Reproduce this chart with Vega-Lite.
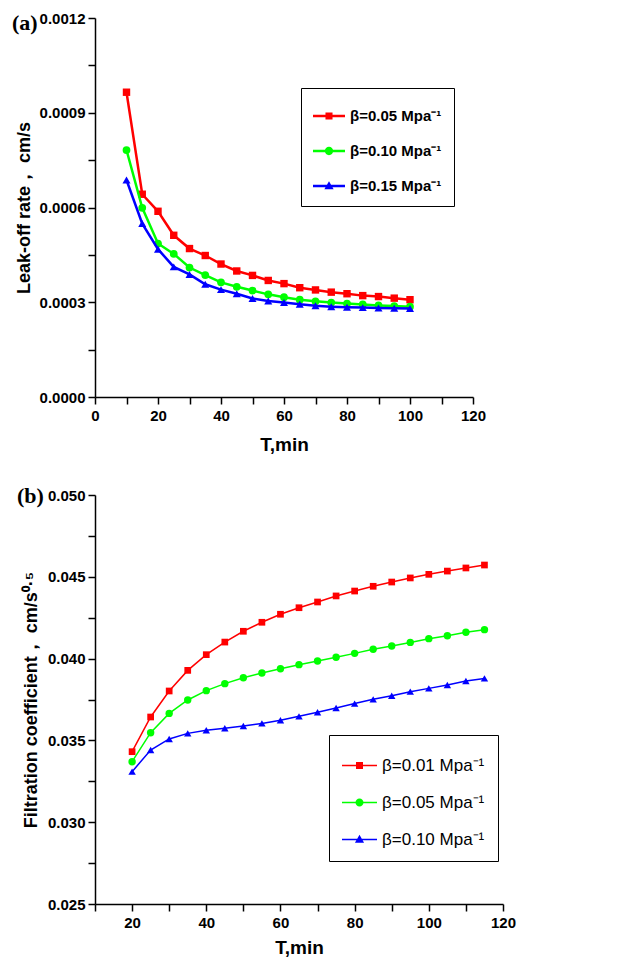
{
  "$schema": "https://vega.github.io/schema/vega-lite/v6.json",
  "autosize": {"type": "pad"},
  "padding": {"left": 12, "top": 11, "right": 20, "bottom": 5},
  "background": "white",
  "spacing": 98,
  "bounds": "flush",
  "config": {
    "view": {"stroke": null},
    "axis": {
      "domainColor": "black", "domainWidth": 1.5,
      "tickColor": "black", "tickWidth": 1.5, "tickSize": 7,
      "labelFont": "Liberation Sans", "labelFontWeight": "bold", "labelFontSize": 15, "labelColor": "black",
      "titleFont": "Liberation Sans", "titleFontWeight": "bold", "titleColor": "black",
      "grid": false, "labelOverlap": false, "labelFlush": false, "labelBound": false
    }
  },
  "datasets": {
    "a": [
      {"T": 10, "v": 0.000965, "beta": "0.05"}, {"T": 15, "v": 0.000642, "beta": "0.05"}, {"T": 20, "v": 0.000588, "beta": "0.05"},
      {"T": 25, "v": 0.000512, "beta": "0.05"}, {"T": 30, "v": 0.000470, "beta": "0.05"}, {"T": 35, "v": 0.000448, "beta": "0.05"},
      {"T": 40, "v": 0.000421, "beta": "0.05"}, {"T": 45, "v": 0.000399, "beta": "0.05"}, {"T": 50, "v": 0.000385, "beta": "0.05"},
      {"T": 55, "v": 0.000369, "beta": "0.05"}, {"T": 60, "v": 0.000359, "beta": "0.05"}, {"T": 65, "v": 0.000346, "beta": "0.05"},
      {"T": 70, "v": 0.000339, "beta": "0.05"}, {"T": 75, "v": 0.000332, "beta": "0.05"}, {"T": 80, "v": 0.000327, "beta": "0.05"},
      {"T": 85, "v": 0.000321, "beta": "0.05"}, {"T": 90, "v": 0.000318, "beta": "0.05"}, {"T": 95, "v": 0.000313, "beta": "0.05"},
      {"T": 100, "v": 0.000308, "beta": "0.05"},
      {"T": 10, "v": 0.000782, "beta": "0.10"}, {"T": 15, "v": 0.000599, "beta": "0.10"}, {"T": 20, "v": 0.000486, "beta": "0.10"},
      {"T": 25, "v": 0.000453, "beta": "0.10"}, {"T": 30, "v": 0.000410, "beta": "0.10"}, {"T": 35, "v": 0.000386, "beta": "0.10"},
      {"T": 40, "v": 0.000363, "beta": "0.10"}, {"T": 45, "v": 0.000349, "beta": "0.10"}, {"T": 50, "v": 0.000337, "beta": "0.10"},
      {"T": 55, "v": 0.000325, "beta": "0.10"}, {"T": 60, "v": 0.000316, "beta": "0.10"}, {"T": 65, "v": 0.000308, "beta": "0.10"},
      {"T": 70, "v": 0.000303, "beta": "0.10"}, {"T": 75, "v": 0.000299, "beta": "0.10"}, {"T": 80, "v": 0.000296, "beta": "0.10"},
      {"T": 85, "v": 0.000293, "beta": "0.10"}, {"T": 90, "v": 0.000290, "beta": "0.10"}, {"T": 95, "v": 0.000288, "beta": "0.10"},
      {"T": 100, "v": 0.000286, "beta": "0.10"},
      {"T": 10, "v": 0.000687, "beta": "0.15"}, {"T": 15, "v": 0.000549, "beta": "0.15"}, {"T": 20, "v": 0.000468, "beta": "0.15"},
      {"T": 25, "v": 0.000412, "beta": "0.15"}, {"T": 30, "v": 0.000388, "beta": "0.15"}, {"T": 35, "v": 0.000357, "beta": "0.15"},
      {"T": 40, "v": 0.000340, "beta": "0.15"}, {"T": 45, "v": 0.000327, "beta": "0.15"}, {"T": 50, "v": 0.000312, "beta": "0.15"},
      {"T": 55, "v": 0.000304, "beta": "0.15"}, {"T": 60, "v": 0.000299, "beta": "0.15"}, {"T": 65, "v": 0.000294, "beta": "0.15"},
      {"T": 70, "v": 0.000289, "beta": "0.15"}, {"T": 75, "v": 0.000286, "beta": "0.15"}, {"T": 80, "v": 0.000284, "beta": "0.15"},
      {"T": 85, "v": 0.000283, "beta": "0.15"}, {"T": 90, "v": 0.000282, "beta": "0.15"}, {"T": 95, "v": 0.000281, "beta": "0.15"},
      {"T": 100, "v": 0.000280, "beta": "0.15"}
    ],
    "b": [
      {"T": 20, "v": 0.03431, "beta": "0.01"}, {"T": 25, "v": 0.03643, "beta": "0.01"}, {"T": 30, "v": 0.03802, "beta": "0.01"},
      {"T": 35, "v": 0.03928, "beta": "0.01"}, {"T": 40, "v": 0.04024, "beta": "0.01"}, {"T": 45, "v": 0.04101, "beta": "0.01"},
      {"T": 50, "v": 0.04167, "beta": "0.01"}, {"T": 55, "v": 0.04222, "beta": "0.01"}, {"T": 60, "v": 0.04271, "beta": "0.01"},
      {"T": 65, "v": 0.04311, "beta": "0.01"}, {"T": 70, "v": 0.04346, "beta": "0.01"}, {"T": 75, "v": 0.04383, "beta": "0.01"},
      {"T": 80, "v": 0.04413, "beta": "0.01"}, {"T": 85, "v": 0.04442, "beta": "0.01"}, {"T": 90, "v": 0.04468, "beta": "0.01"},
      {"T": 95, "v": 0.04493, "beta": "0.01"}, {"T": 100, "v": 0.04515, "beta": "0.01"}, {"T": 105, "v": 0.04535, "beta": "0.01"},
      {"T": 110, "v": 0.04554, "beta": "0.01"}, {"T": 115, "v": 0.04572, "beta": "0.01"},
      {"T": 20, "v": 0.03370, "beta": "0.05"}, {"T": 25, "v": 0.03547, "beta": "0.05"}, {"T": 30, "v": 0.03665, "beta": "0.05"},
      {"T": 35, "v": 0.03747, "beta": "0.05"}, {"T": 40, "v": 0.03804, "beta": "0.05"}, {"T": 45, "v": 0.03847, "beta": "0.05"},
      {"T": 50, "v": 0.03883, "beta": "0.05"}, {"T": 55, "v": 0.03912, "beta": "0.05"}, {"T": 60, "v": 0.03938, "beta": "0.05"},
      {"T": 65, "v": 0.03963, "beta": "0.05"}, {"T": 70, "v": 0.03985, "beta": "0.05"}, {"T": 75, "v": 0.04008, "beta": "0.05"},
      {"T": 80, "v": 0.04032, "beta": "0.05"}, {"T": 85, "v": 0.04057, "beta": "0.05"}, {"T": 90, "v": 0.04077, "beta": "0.05"},
      {"T": 95, "v": 0.04099, "beta": "0.05"}, {"T": 100, "v": 0.04122, "beta": "0.05"}, {"T": 105, "v": 0.04140, "beta": "0.05"},
      {"T": 110, "v": 0.04161, "beta": "0.05"}, {"T": 115, "v": 0.04177, "beta": "0.05"},
      {"T": 20, "v": 0.03309, "beta": "0.10"}, {"T": 25, "v": 0.03441, "beta": "0.10"}, {"T": 30, "v": 0.03509, "beta": "0.10"},
      {"T": 35, "v": 0.03543, "beta": "0.10"}, {"T": 40, "v": 0.03562, "beta": "0.10"}, {"T": 45, "v": 0.03574, "beta": "0.10"},
      {"T": 50, "v": 0.03588, "beta": "0.10"}, {"T": 55, "v": 0.03604, "beta": "0.10"}, {"T": 60, "v": 0.03623, "beta": "0.10"},
      {"T": 65, "v": 0.03647, "beta": "0.10"}, {"T": 70, "v": 0.03672, "beta": "0.10"}, {"T": 75, "v": 0.03698, "beta": "0.10"},
      {"T": 80, "v": 0.03725, "beta": "0.10"}, {"T": 85, "v": 0.03751, "beta": "0.10"}, {"T": 90, "v": 0.03773, "beta": "0.10"},
      {"T": 95, "v": 0.03798, "beta": "0.10"}, {"T": 100, "v": 0.03818, "beta": "0.10"}, {"T": 105, "v": 0.03839, "beta": "0.10"},
      {"T": 110, "v": 0.03863, "beta": "0.10"}, {"T": 115, "v": 0.03879, "beta": "0.10"}
    ]
  },
  "vconcat": [
    {
      "width": 378, "height": 379,
      "title": {"text": "(a)", "anchor": "start", "frame": "group", "font": "Liberation Serif", "fontSize": 22, "fontWeight": "bold", "color": "black", "baseline": "top", "offset": 0, "dx": -83, "dy": 24},
      "data": {"name": "a"},
      "encoding": {
        "x": {"field": "T", "type": "quantitative", "scale": {"domain": [0, 120], "nice": false},
          "axis": {"title": "T,min", "titleFontSize": 19, "titlePadding": 12, "labelPadding": 4,
            "values": [0, 10, 20, 30, 40, 50, 60, 70, 80, 90, 100, 110, 120],
            "labelExpr": "datum.value % 20 === 0 ? datum.label : ''",
            "encode": {"ticks": {"y2": {"value": {"expr": "datum.value % 20 === 0 ? 7 : 4"}}}}}},
        "y": {"field": "v", "type": "quantitative", "scale": {"domain": [0, 0.0012], "nice": false},
          "axis": {"title": "Leak-off rate， cm/s", "titleFontSize": 18, "titlePadding": 7, "minExtent": 55, "maxExtent": 55,
            "format": ".4f", "labelPadding": 3,
            "values": [0, 0.00015, 0.0003, 0.00045, 0.0006, 0.00075, 0.0009, 0.00105, 0.0012],
            "labelExpr": "abs(datum.value/0.0003 - round(datum.value/0.0003)) < 1e-6 ? datum.label : ''",
            "encode": {"ticks": {"x2": {"value": {"expr": "abs(datum.value/0.0003 - round(datum.value/0.0003)) < 1e-6 ? -7 : -4"}}}}}}
      },
      "layer": [
        {"transform": [{"filter": "datum.beta === '0.05'"}],
          "mark": {"type": "line", "strokeWidth": 2.5, "color": "#ff0000",
            "point": {"shape": "square", "filled": true, "opacity": 1, "size": 55, "color": "#ff0000"}}},
        {"transform": [{"filter": "datum.beta === '0.10'"}],
          "mark": {"type": "line", "strokeWidth": 2.5, "color": "#00ff00",
            "point": {"shape": "circle", "filled": true, "opacity": 1, "size": 60, "color": "#00ff00"}}},
        {"transform": [{"filter": "datum.beta === '0.15'"}],
          "mark": {"type": "line", "strokeWidth": 2.5, "color": "#0000ff",
            "point": {"shape": "triangle-up", "filled": true, "opacity": 1, "size": 65, "color": "#0000ff"}}},
        {"transform": [{"filter": "false"}],
          "mark": {"type": "point", "filled": true, "opacity": 1, "size": 60},
          "encoding": {
            "color": {"field": "beta", "type": "nominal",
              "scale": {"domain": ["0.05", "0.10", "0.15"], "range": ["#ff0000", "#00ff00", "#0000ff"]},
              "legend": {"orient": "none", "legendX": 206, "legendY": 70, "title": null, "direction": "vertical",
                "padding": 12, "strokeColor": "black", "fillColor": "white",
                "symbolSize": 1024, "symbolOpacity": 1, "symbolStrokeWidth": 0, "rowPadding": 11, "labelOffset": 5, "labelLimit": 300,
                "labelFont": "Liberation Sans", "labelFontWeight": "bold", "labelFontSize": 15, "labelColor": "black",
                "labelExpr": "'β=' + datum.value + ' Mpa⁻¹'"}},
            "shape": {"field": "beta", "type": "nominal",
              "scale": {"domain": ["0.05", "0.10", "0.15"], "range": [
                "M-1,-0.08H1V0.08H-1ZM-0.22,-0.22H0.22V0.22H-0.22Z",
                "M-1,-0.08H1V0.08H-1ZM0.26,0A0.26,0.26,0,1,1,-0.26,0A0.26,0.26,0,1,1,0.26,0Z",
                "M-1,-0.08H1V0.08H-1ZM0,-0.3L0.29,0.2L-0.29,0.2Z"]},
              "legend": {"orient": "none", "legendX": 206, "legendY": 70, "title": null, "direction": "vertical",
                "padding": 12, "strokeColor": "black", "fillColor": "white",
                "symbolSize": 1024, "symbolOpacity": 1, "symbolStrokeWidth": 0, "rowPadding": 11, "labelOffset": 5, "labelLimit": 300,
                "labelFont": "Liberation Sans", "labelFontWeight": "bold", "labelFontSize": 15, "labelColor": "black",
                "labelExpr": "'β=' + datum.value + ' Mpa⁻¹'"}}
          }}
      ]
    },
    {
      "width": 408, "height": 409,
      "title": {"text": "(b)", "anchor": "start", "frame": "group", "font": "Liberation Serif", "fontSize": 22, "fontWeight": "bold", "color": "black", "baseline": "top", "offset": 0, "dx": -78, "dy": 20},
      "data": {"name": "b"},
      "encoding": {
        "x": {"field": "T", "type": "quantitative", "scale": {"domain": [10, 120], "nice": false},
          "axis": {"title": "T,min", "titleFontSize": 19, "titlePadding": 8, "labelPadding": 4,
            "values": [10, 20, 30, 40, 50, 60, 70, 80, 90, 100, 110, 120],
            "labelExpr": "datum.value % 20 === 0 ? datum.label : ''",
            "encode": {"ticks": {"y2": {"value": {"expr": "datum.value % 20 === 0 ? 7 : 4"}}}}}},
        "y": {"field": "v", "type": "quantitative", "scale": {"domain": [0.025, 0.05], "nice": false},
          "axis": {"title": "Filtration coefficient， cm/s⁰·⁵", "titleFontSize": 18, "titlePadding": 5, "minExtent": 50, "maxExtent": 50,
            "format": ".3f", "labelPadding": 3,
            "values": [0.025, 0.0275, 0.03, 0.0325, 0.035, 0.0375, 0.04, 0.0425, 0.045, 0.0475, 0.05],
            "labelExpr": "abs(datum.value*200 - round(datum.value*200)) < 1e-6 ? datum.label : ''",
            "encode": {"ticks": {"x2": {"value": {"expr": "abs(datum.value*200 - round(datum.value*200)) < 1e-6 ? -7 : -4"}}}}}}
      },
      "layer": [
        {"transform": [{"filter": "datum.beta === '0.01'"}],
          "mark": {"type": "line", "strokeWidth": 1.5, "color": "#ff0000",
            "point": {"shape": "square", "filled": true, "opacity": 1, "size": 45, "color": "#ff0000"}}},
        {"transform": [{"filter": "datum.beta === '0.05'"}],
          "mark": {"type": "line", "strokeWidth": 1.5, "color": "#00ff00",
            "point": {"shape": "circle", "filled": true, "opacity": 1, "size": 55, "color": "#00ff00"}}},
        {"transform": [{"filter": "datum.beta === '0.10'"}],
          "mark": {"type": "line", "strokeWidth": 1.5, "color": "#0000ff",
            "point": {"shape": "triangle-up", "filled": true, "opacity": 1, "size": 55, "color": "#0000ff"}}},
        {"transform": [{"filter": "false"}],
          "mark": {"type": "point", "filled": true, "opacity": 1, "size": 60},
          "encoding": {
            "color": {"field": "beta", "type": "nominal",
              "scale": {"domain": ["0.01", "0.05", "0.10"], "range": ["#ff0000", "#00ff00", "#0000ff"]},
              "legend": {"orient": "none", "legendX": 234, "legendY": 240, "title": null, "direction": "vertical",
                "padding": 13, "strokeColor": "black", "fillColor": "white",
                "symbolSize": 1225, "symbolOpacity": 1, "symbolStrokeWidth": 0, "rowPadding": 11, "labelOffset": 5, "labelLimit": 300,
                "labelFont": "Liberation Sans", "labelFontWeight": "normal", "labelFontSize": 17, "labelColor": "black",
                "labelExpr": "'β=' + datum.value + ' Mpa⁻¹'"}},
            "shape": {"field": "beta", "type": "nominal",
              "scale": {"domain": ["0.01", "0.05", "0.10"], "range": [
                "M-1,-0.045H1V0.045H-1ZM-0.2,-0.2H0.2V0.2H-0.2Z",
                "M-1,-0.045H1V0.045H-1ZM0.23,0A0.23,0.23,0,1,1,-0.23,0A0.23,0.23,0,1,1,0.23,0Z",
                "M-1,-0.045H1V0.045H-1ZM0,-0.27L0.26,0.18L-0.26,0.18Z"]},
              "legend": {"orient": "none", "legendX": 234, "legendY": 240, "title": null, "direction": "vertical",
                "padding": 13, "strokeColor": "black", "fillColor": "white",
                "symbolSize": 1225, "symbolOpacity": 1, "symbolStrokeWidth": 0, "rowPadding": 11, "labelOffset": 5, "labelLimit": 300,
                "labelFont": "Liberation Sans", "labelFontWeight": "normal", "labelFontSize": 17, "labelColor": "black",
                "labelExpr": "'β=' + datum.value + ' Mpa⁻¹'"}}
          }}
      ]
    }
  ],
  "resolve": {"scale": {"color": "independent", "shape": "independent", "x": "independent", "y": "independent"}, "legend": {"color": "independent", "shape": "independent"}}
}
